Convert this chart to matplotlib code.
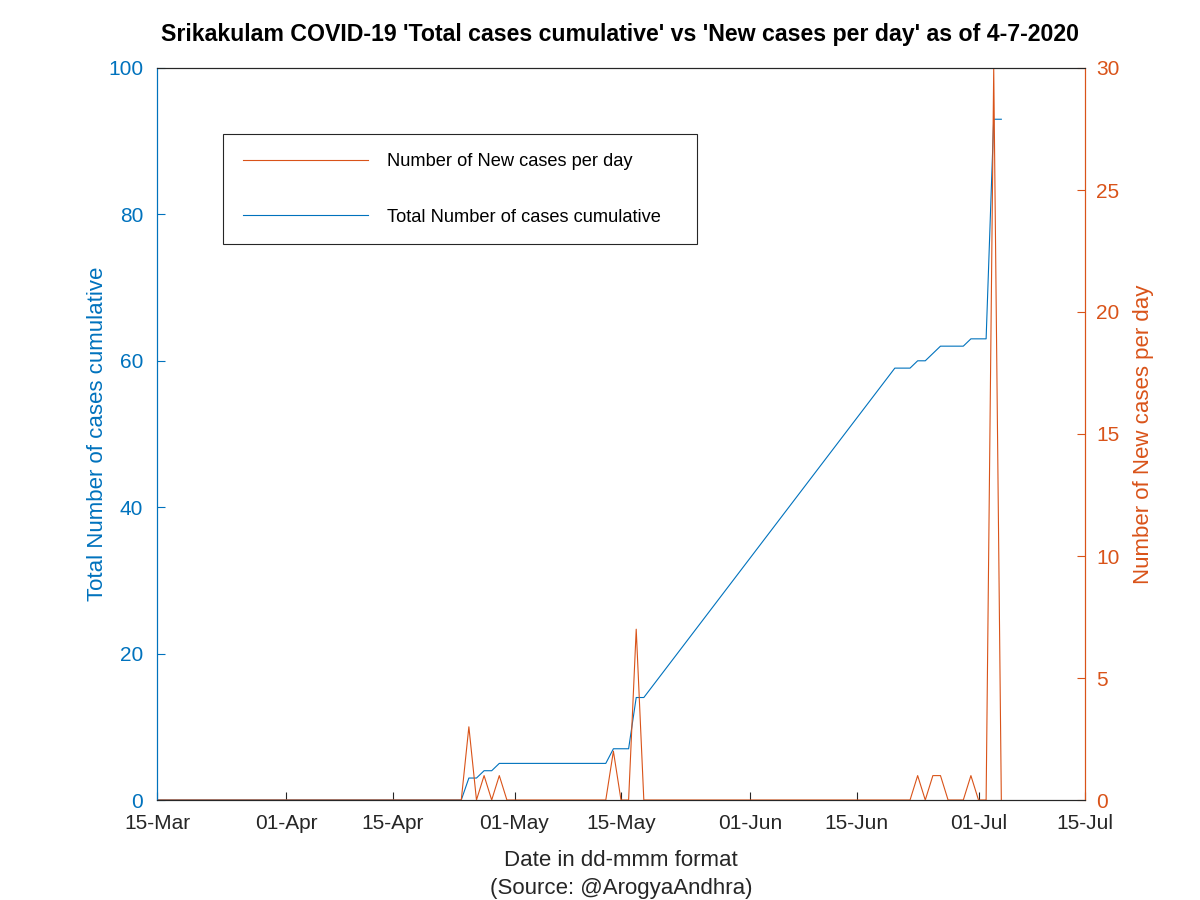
import matplotlib
matplotlib.use("Agg")
import matplotlib.pyplot as plt
import matplotlib.dates as mdates
from matplotlib.patches import Rectangle
import pandas as pd

plt.rcParams['font.family'] = ['Liberation Sans', 'DejaVu Sans']

# Cumulative total cases (breakpoints of the plotted line)
total_dates = ['2020-03-15', '2020-04-24', '2020-04-25', '2020-04-26', '2020-04-27',
               '2020-04-28', '2020-04-29', '2020-05-13', '2020-05-14', '2020-05-16',
               '2020-05-17', '2020-05-18', '2020-06-20', '2020-06-22', '2020-06-23',
               '2020-06-24', '2020-06-25', '2020-06-26', '2020-06-29', '2020-06-30',
               '2020-07-02', '2020-07-03', '2020-07-04']
total_cases = [0, 0, 3, 3, 4, 4, 5, 5, 7, 7, 14, 14, 59, 59, 60, 60, 61, 62, 62, 63, 63, 93, 93]

# New cases per day (breakpoints of the plotted line)
new_dates = ['2020-03-15', '2020-04-24', '2020-04-25', '2020-04-26', '2020-04-27',
             '2020-04-28', '2020-04-29', '2020-04-30', '2020-05-13', '2020-05-14',
             '2020-05-15', '2020-05-16', '2020-05-17', '2020-05-18', '2020-06-22',
             '2020-06-23', '2020-06-24', '2020-06-25', '2020-06-26', '2020-06-27',
             '2020-06-29', '2020-06-30', '2020-07-01', '2020-07-02', '2020-07-03',
             '2020-07-04']
new_cases = [0, 0, 3, 0, 1, 0, 1, 0, 0, 2, 0, 0, 7, 0, 0, 1, 0, 1, 1, 0, 0, 1, 0, 0, 30, 0]

tick_dates = ['2020-03-15', '2020-04-01', '2020-04-15', '2020-05-01', '2020-05-15',
              '2020-06-01', '2020-06-15', '2020-07-01', '2020-07-15']

BLUE = '#0072BD'
ORANGE = '#D95319'
DARK = '#262626'

td = pd.to_datetime(total_dates)
nd = pd.to_datetime(new_dates)
ticks = pd.to_datetime(tick_dates)

W, H = 1200, 900
fig = plt.figure(figsize=(12, 9), dpi=100)
ax1 = fig.add_axes([157/W, 1-800/H, (1085-157)/W, (800-68)/H])
ax2 = ax1.twinx()

l1, = ax1.plot(td, total_cases, color=BLUE, lw=0.8, label='Total Number of cases cumulative')
l2, = ax2.plot(nd, new_cases, color=ORANGE, lw=0.8, label='Number of New cases per day')

ax1.set_xlim(ticks[0], ticks[-1])
ax1.set_ylim(0, 100)
ax2.set_ylim(0, 30)
ax1.set_xticks(ticks)
ax1.xaxis.set_major_formatter(mdates.DateFormatter('%d-%b'))
ax1.set_yticks(range(0, 101, 20))
ax2.set_yticks(range(0, 31, 5))

ax1.tick_params(axis='x', direction='in', length=6, labelsize=15, colors=DARK, pad=10)
ax1.tick_params(axis='y', direction='in', length=6, labelsize=15, colors=BLUE, pad=10)
ax2.tick_params(axis='y', direction='in', length=6, labelsize=15, colors=ORANGE, pad=8)

for ax in (ax1, ax2):
    ax.spines['left'].set_color(BLUE)
    ax.spines['right'].set_color(ORANGE)
    ax.spines['top'].set_color(DARK)
    ax.spines['bottom'].set_color(DARK)
    for s in ax.spines.values():
        s.set_linewidth(0.8)

ax1.set_ylabel('Total Number of cases cumulative', color=BLUE, fontsize=16, labelpad=0)
ax2.set_ylabel('Number of New cases per day', color=ORANGE, fontsize=16, labelpad=9.5)
ax1.set_xlabel('Date in dd-mmm format\n(Source: @ArogyaAndhra)', color=DARK, fontsize=16,
               labelpad=12, linespacing=1.45)

fig.text(620/W, 1-35/H, "Srikakulam COVID-19 'Total cases cumulative' vs 'New cases per day' as of 4-7-2020",
         ha='center', va='center', fontsize=16.7, fontweight='bold')

# Legend frame drawn explicitly, contents placed inside it
frame = Rectangle((223/W, 1-244/H), (697-223)/W, (244-134)/H, transform=fig.transFigure,
                  facecolor='white', edgecolor=DARK, lw=0.8, zorder=5)
fig.add_artist(frame)
leg = ax2.legend(handles=[l2, l1], loc='center left', bbox_to_anchor=(243/W, 1-189.5/H),
                 bbox_transform=fig.transFigure, borderaxespad=0, borderpad=0, fontsize=13.15,
                 handlelength=6.85, handletextpad=1.05, labelspacing=2.1, frameon=False)
leg.set_zorder(6)
fig.add_artist(leg)

fig.savefig('out.png', dpi=100)
